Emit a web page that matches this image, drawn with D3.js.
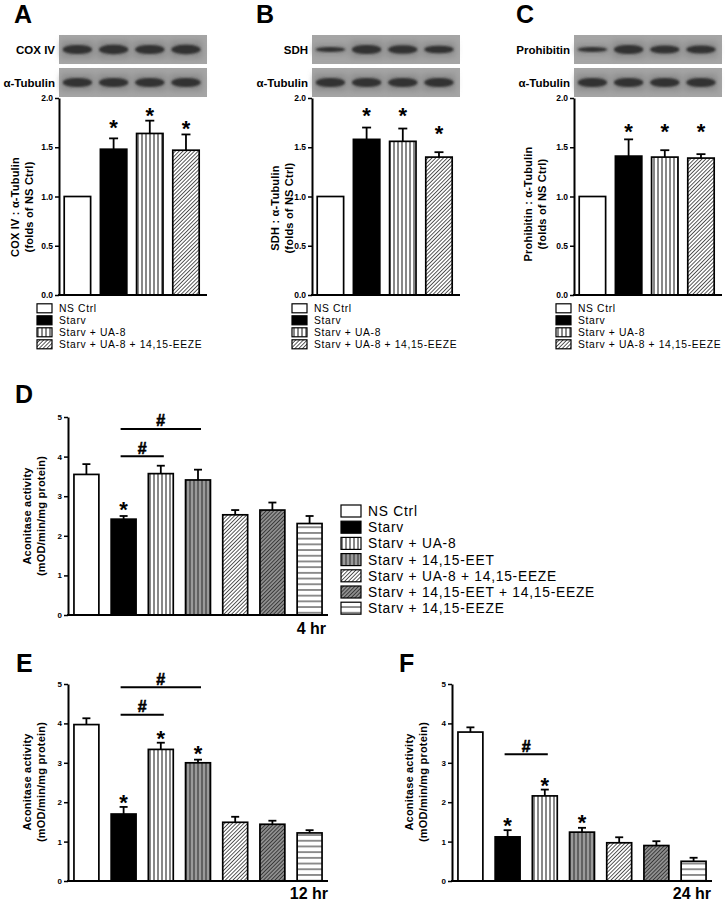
<!DOCTYPE html>
<html><head><meta charset="utf-8">
<script src="https://cdn.jsdelivr.net/npm/d3@7"></script>
<style>body{margin:0;background:#fff} svg{display:block} text{font-family:"Liberation Sans",Arial,sans-serif}</style>
</head><body><svg id="c" width="726" height="902"></svg>
<script>
// ---------- DATA ----------
const blotGroups = ["NS Ctrl","Starv","Starv + UA-8","Starv + UA-8 + 14,15-EEZE"];
const blotTicks = [0,0.5,1.0,1.5,2.0];
const coxMean = [1.00,1.48,1.64,1.47];
const coxErr  = [0,0.11,0.13,0.16];
const coxStar = [null,1.76,1.88,1.75];
const sdhMean = [1.00,1.58,1.56,1.40];
const sdhErr  = [0,0.12,0.13,0.05];
const sdhStar = [null,1.88,1.88,1.70];
const prohMean = [1.00,1.41,1.40,1.39];
const prohErr  = [0,0.17,0.07,0.04];
const prohStar = [null,1.72,1.72,1.72];
const coxBand  = [1.0,1.05,1.0,1.05];
const sdhBand  = [0.55,1.0,0.95,0.85];
const prohBand = [0.55,1.0,0.9,0.9];
const tubBand  = [1.0,1.0,1.0,1.0];

const aconGroups = ["NS Ctrl","Starv","Starv + UA-8","Starv + 14,15-EET","Starv + UA-8 + 14,15-EEZE","Starv + 14,15-EET + 14,15-EEZE","Starv + 14,15-EEZE"];
const aconTicks = [0,1,2,3,4,5];
const acon4h = [3.55,2.42,3.57,3.41,2.53,2.65,2.31];
const acon4hErr = [0.26,0.08,0.20,0.26,0.12,0.19,0.19];
const acon4hStar = [null,2.81,null,null,null,null,null];
const acon4hSig = [[1,3,4.70],[1,2,4.01]];
const acon12h = [3.97,1.70,3.34,3.00,1.49,1.44,1.22];
const acon12hErr = [0.16,0.18,0.17,0.08,0.14,0.09,0.07];
const acon12hStar = [null,2.13,3.75,3.39,null,null,null];
const acon12hSig = [[1,3,4.92],[1,2,4.22]];
const acon24h = [3.78,1.12,2.16,1.24,0.97,0.90,0.50];
const acon24hErr = [0.12,0.17,0.16,0.11,0.14,0.11,0.09];
const acon24hStar = [null,1.56,2.56,1.63,null,null,null];
const acon24hSig = [[1,2,3.22]];

// ---------- SETUP ----------
const svg = d3.select("#c");
const defs = svg.append("defs");
function pattern(id, w, h, bg, path, stroke, sw, rot){
  const p = defs.append("pattern").attr("id",id).attr("patternUnits","userSpaceOnUse")
    .attr("width",w).attr("height",h);
  if(rot) p.attr("patternTransform",`rotate(${rot})`);
  p.append("rect").attr("width",w).attr("height",h).attr("fill",bg);
  p.append("path").attr("d",path).attr("stroke",stroke).attr("stroke-width",sw).attr("fill","none");
}
pattern("vlines",4,4,"#fff","M2,0V4","#111",1);
pattern("gvlines",4,4,"#9a9a9a","M2,0V4","#3a3a3a",1.2);
pattern("diag",2.7,2.7,"#fff","M1.35,-1V4","#222",0.75,45);
pattern("gdiag",2.7,2.7,"#8f8f8f","M1.35,-1V4","#2a2a2a",0.8,45);
pattern("hlines",4,5.7,"#fff","M0,2.85H4","#555",1.3);
defs.append("filter").attr("id","blur").attr("x","-30%").attr("y","-60%").attr("width","160%").attr("height","220%")
  .append("feGaussianBlur").attr("stdDeviation",1.3);
defs.append("filter").attr("id","blur2").attr("x","-30%").attr("y","-60%").attr("width","160%").attr("height","220%")
  .append("feGaussianBlur").attr("stdDeviation",3);

const blotFills = ["#fff","#000","url(#vlines)","url(#diag)"];
const aconFills = ["#fff","#000","url(#vlines)","url(#gvlines)","url(#diag)","url(#gdiag)","url(#hlines)"];

function barChart(cfg){
  const g = svg.append("g");
  const x = d3.scaleBand().domain(cfg.names).range([cfg.x0,cfg.x1])
    .paddingInner(cfg.pi).paddingOuter(cfg.po).align(cfg.align);
  const y = d3.scaleLinear().domain([0,cfg.yMax]).range([cfg.y0,cfg.yT]);
  const bw = x.bandwidth();
  const data = cfg.names.map((n,i)=>({n,i,m:cfg.means[i],e:cfg.errs[i],s:cfg.stars[i]}));
  const eg = g.append("g").attr("stroke","#000").attr("stroke-width",1.8);
  data.filter(d=>d.e>0).forEach(d=>{
    const cx = x(d.n)+bw/2;
    eg.append("line").attr("x1",cx).attr("x2",cx).attr("y1",y(d.m)).attr("y2",y(d.m+d.e));
    eg.append("line").attr("x1",cx-cfg.cap/2).attr("x2",cx+cfg.cap/2).attr("y1",y(d.m+d.e)).attr("y2",y(d.m+d.e));
  });
  g.selectAll("rect.bar").data(data).join("rect").attr("class","bar")
    .attr("x",d=>x(d.n)).attr("y",d=>y(d.m)).attr("width",bw).attr("height",d=>y(0)-y(d.m))
    .attr("fill",d=>cfg.fills[d.i]).attr("stroke","#000").attr("stroke-width",1.7);
  g.selectAll("text.star").data(data.filter(d=>d.s!=null)).join("text").attr("class","star")
    .attr("x",d=>x(d.n)+bw/2).attr("y",d=>y(d.s)+cfg.starSize*0.6)
    .attr("text-anchor","middle").attr("font-weight","bold").attr("font-size",cfg.starSize).text("*");
  (cfg.sig||[]).forEach(([a,b,lv])=>{
    const xa = x(cfg.names[a])+bw/2-3, xb = x(cfg.names[b])+bw/2+3;
    g.append("line").attr("x1",xa).attr("x2",xb).attr("y1",y(lv)).attr("y2",y(lv)).attr("stroke","#000").attr("stroke-width",2);
    g.append("text").attr("x",(xa+xb)/2).attr("y",y(lv)-2.5).attr("text-anchor","middle")
      .attr("font-weight","bold").attr("font-size",16).attr("stroke","#000").attr("stroke-width",0.6).text("#");
  });
  const ya = g.append("g").attr("transform",`translate(${cfg.x0},0)`)
    .call(d3.axisLeft(y).tickValues(cfg.ticks).tickFormat(cfg.fmt).tickSize(4).tickSizeOuter(0).tickPadding(2));
  ya.select(".domain").attr("stroke-width",2);
  ya.selectAll(".tick line").attr("stroke-width",1.5);
  ya.selectAll(".tick text").attr("font-family","Liberation Sans, Arial, sans-serif").attr("font-weight","bold").attr("font-size",cfg.tickSize).attr("fill","#000");
  const xa = g.append("g").attr("transform",`translate(0,${cfg.y0})`)
    .call(d3.axisBottom(x).tickSize(0).tickSizeOuter(0).tickFormat(""));
  xa.select(".domain").attr("stroke-width",2).attr("d",`M${cfg.x0-1},0H${cfg.x1}`);
  cfg.title.forEach((t,k)=>{
    const bx = cfg.titleX[k];
    g.append("text").attr("x",bx).attr("y",cfg.titleY).attr("transform",`rotate(-90,${bx},${cfg.titleY})`)
      .attr("text-anchor","middle").attr("font-weight","bold").attr("font-size",cfg.titleSize)
      .attr("letter-spacing",0.2).text(t);
  });
  return {x,y,bw};
}

function blot(x, bw, x0, rows){
  rows.forEach(r=>{
    const g = svg.append("g");
    g.append("rect").attr("x",x0).attr("y",r.y).attr("width",148).attr("height",29).attr("fill","#a5a5a5");
    const gb = g.append("g").attr("filter","url(#blur2)");
    r.band.forEach((t,i)=>{
      gb.append("rect").attr("x",x(blotGroups[i])-3).attr("y",r.y+14.5-8*t).attr("width",bw+6).attr("height",16*t).attr("fill","#8a8a8a");
    });
    const gb2 = g.append("g").attr("filter","url(#blur)");
    r.band.forEach((t,i)=>{
      const cx = x(blotGroups[i])+bw/2, h = 9*t, w = bw+3;
      gb2.append("rect").attr("x",cx-w/2).attr("y",r.y+14.5-h/2).attr("width",w).attr("height",h)
        .attr("rx",w/2.2).attr("ry",h/2).attr("fill","#333");
    });
    svg.append("text").attr("x",x0-4).attr("y",r.y+14.5+4).attr("text-anchor","end")
      .attr("font-weight","bold").attr("font-size",11.5).text(r.label);
  });
}

function legend(x0, yc, dy, names, fills, sw, sh, fs, ls){
  names.forEach((n,i)=>{
    const yy = yc + i*dy;
    svg.append("rect").attr("x",x0).attr("y",yy-sh/2).attr("width",sw).attr("height",sh)
      .attr("fill",fills[i]).attr("stroke","#000").attr("stroke-width",1.2);
    svg.append("text").attr("x",x0+sw+7).attr("y",yy+fs*0.36).attr("font-size",fs)
      .attr("letter-spacing",ls).text(n);
  });
}

function letter(t,x,y){
  svg.append("text").attr("x",x).attr("y",y).attr("font-weight","bold").attr("font-size",25).text(t);
}

// ---------- PANELS A–C ----------
const fmt1 = d3.format(".1f");
const panelsABC = [
  {L:"A",lx:14,ax:59,mean:coxMean,err:coxErr,star:coxStar,band:coxBand,lab:"COX IV",
   title:["COX IV : \u03b1-Tubulin","(folds of NS Ctrl)"],tx:[19,32.5],ty:207,legX:37},
  {L:"B",lx:256,ax:312,mean:sdhMean,err:sdhErr,star:sdhStar,band:sdhBand,lab:"SDH",
   title:["SDH : \u03b1-Tubulin","(folds of NS Ctrl)"],tx:[279,292.5],ty:208,legX:292},
  {L:"C",lx:516,ax:574,mean:prohMean,err:prohErr,star:prohStar,band:prohBand,lab:"Prohibitin",
   title:["Prohibitin : \u03b1-Tubulin","(folds of NS Ctrl)"],tx:[532,545.5],ty:204,legX:556}
];
panelsABC.forEach(p=>{
  letter(p.L,p.lx,23);
  const r = barChart({names:blotGroups,means:p.mean,errs:p.err,stars:p.star,fills:blotFills,
    x0:p.ax,x1:p.ax+148,y0:295,yT:98,yMax:2,ticks:blotTicks,fmt:fmt1,tickSize:8.5,
    pi:0.27,po:0.18,align:0.4,cap:9,starSize:22,title:p.title,titleX:p.tx,titleY:p.ty,titleSize:11});
  blot(r.x,r.bw,p.ax,[{y:35,band:p.band,label:p.lab},{y:68,band:tubBand,label:"\u03b1-Tubulin"}]);
  legend(p.legX,308.3,12,blotGroups,blotFills,15,9,10.3,0.65);
});

// ---------- PANELS D–F ----------
const fmt0 = d3.format("d");
const aconTitle = ["Aconitase activity","(mOD/min/mg protein)"];
const common = {names:aconGroups,fills:aconFills,yMax:5,ticks:aconTicks,fmt:fmt0,tickSize:8,
  pi:0.33,po:0.16,align:0.5,cap:8,starSize:22,title:aconTitle,titleSize:11};

letter("D",15,403);
barChart(Object.assign({},common,{means:acon4h,errs:acon4hErr,stars:acon4hStar,sig:acon4hSig,
  x0:68,x1:328,y0:615,yT:417,titleX:[31,44.5],titleY:516}));
svg.append("text").attr("x",326).attr("y",634).attr("text-anchor","end").attr("font-weight","bold").attr("font-size",16).text("4 hr");
legend(341,511,16.2,aconGroups,aconFills,20,12,13.8,0.75);

letter("E",16,672);
barChart(Object.assign({},common,{means:acon12h,errs:acon12hErr,stars:acon12hStar,sig:acon12hSig,
  x0:68,x1:328,y0:881,yT:684,titleX:[31,44.5],titleY:782}));
svg.append("text").attr("x",328).attr("y",899).attr("text-anchor","end").attr("font-weight","bold").attr("font-size",16).text("12 hr");

letter("F",399,672);
barChart(Object.assign({},common,{means:acon24h,errs:acon24hErr,stars:acon24hStar,sig:acon24hSig,
  x0:452,x1:712,y0:881,yT:684,titleX:[413,426.5],titleY:782}));
svg.append("text").attr("x",711).attr("y",899).attr("text-anchor","end").attr("font-weight","bold").attr("font-size",16).text("24 hr");
</script></body></html>
